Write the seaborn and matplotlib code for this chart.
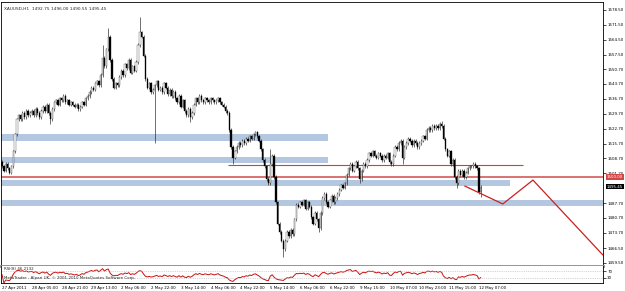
import numpy as np
import pandas as pd
import matplotlib
matplotlib.use("Agg")
import matplotlib.pyplot as plt
import matplotlib.transforms as mtransforms
import seaborn as sns

# ---------------- data ----------------
title_text = "XAUUSD,H1  1492.75 1496.00 1490.55 1495.45"

closes = [
    1505, 1503, 1506, 1504, 1502, 1505,
    1512, 1520, 1527,
    1529, 1527, 1530, 1528, 1531, 1529, 1530,
    1531, 1529, 1532, 1530, 1528, 1531, 1533, 1531,
    1534, 1530, 1527, 1532, 1535,
    1536, 1534, 1537, 1536, 1538, 1535, 1536, 1534,
    1535, 1534, 1533, 1534, 1532, 1533, 1535, 1534, 1537,
    1538, 1540, 1542, 1541, 1544, 1545, 1543, 1548,
    1556, 1552, 1560, 1566,
    1555, 1546, 1542, 1544, 1543,
    1547, 1550, 1548, 1553, 1551, 1555, 1549, 1552, 1550, 1554,
    1562, 1568, 1566, 1557,
    1546, 1542, 1544, 1540,
    1541, 1543, 1545, 1541,
    1542, 1540, 1544, 1542, 1539, 1541, 1538, 1540, 1537, 1535, 1538,
    1533, 1536, 1531, 1529, 1532, 1528, 1530,
    1534, 1537, 1535, 1538, 1536, 1535, 1537, 1536, 1535, 1537,
    1536, 1535, 1536, 1537, 1535, 1534, 1533, 1531, 1530,
    1522, 1514, 1509, 1512,
    1514, 1516, 1515, 1517, 1516, 1518, 1517, 1519, 1518, 1520, 1521, 1519, 1517,
    1513, 1508, 1505,
    1499, 1497, 1506, 1510, 1500,
    1488, 1478, 1474,
    1470, 1466, 1470,
    1474, 1472, 1475, 1473,
    1480, 1487, 1486, 1488,
    1487, 1489, 1485, 1488, 1486,
    1481, 1478, 1483, 1480, 1476, 1483,
    1490, 1492, 1488,
    1486, 1489, 1491, 1488, 1490,
    1492, 1494, 1496, 1495, 1497,
    1501, 1504, 1506, 1503, 1505, 1507,
    1504, 1499, 1503, 1506, 1505,
    1508, 1511, 1510, 1512, 1510,
    1509, 1511, 1510, 1508, 1510, 1509, 1511, 1507,
    1506, 1510, 1514, 1513, 1516,
    1517, 1509, 1514,
    1516, 1518, 1517, 1515, 1517, 1516, 1514, 1516,
    1517, 1519, 1518,
    1522, 1523, 1522, 1524, 1523, 1524, 1523, 1525,
    1524,
    1518, 1513,
    1510, 1512, 1506, 1508,
    1500, 1497, 1503,
    1501, 1503, 1500, 1502,
    1504, 1505,
    1505, 1506, 1505, 1504,
    1492.75,
    1495.45,
]
first_open = 1507.0
wick = 0.8  # default shadow length beyond the body
special_highs = {54: 1562, 57: 1570, 74: 1575, 144: 1513, 236: 1526.5, 257: 1496.0}
special_lows = {26: 1525, 82: 1516, 101: 1526, 124: 1506, 151: 1462.5, 170: 1474,
                192: 1497, 209: 1505, 215: 1506, 244: 1495, 257: 1490.55}

# support / resistance zones: (centre price, half height, last bar index or None = to edge)
zone_prices = [1518.6, 1507.8, 1497.1, 1487.7]
zone_half = [1.5, 1.4, 1.3, 1.2]
zone_end = [175, 175, 272.5, None]

level_main = 1500.0
level_thin = 1505.6
level_thin_span = (121.5, 279.6)

proj_x = [248.4, 268.8, 285.0, 322.6]
proj_y = [1495.7, 1487.25, 1498.5, 1463.2]

ytick_labels = ["1578.50", "1571.50", "1564.50", "1557.50", "1550.70", "1543.70",
                "1536.70", "1529.70", "1522.70", "1515.70", "1508.70", "1501.70",
                "1487.70", "1480.70", "1473.70", "1466.50", "1459.50"]
xtick_labels = ["27 Apr 2011", "28 Apr 05:00", "28 Apr 21:00", "29 Apr 13:00",
                "2 May 06:00", "2 May 22:00", "3 May 14:00", "4 May 06:00",
                "4 May 22:00", "5 May 14:00", "6 May 06:00", "6 May 22:00",
                "9 May 15:00", "10 May 07:00", "10 May 23:00", "11 May 15:00",
                "12 May 07:00"]
xtick_step = 16
rsi_period = 8

# ---------------- build frame ----------------
closes = np.array(closes, dtype=float)
n = len(closes)
idx = np.arange(n)
opens = np.concatenate([[first_open], closes[:-1]])
highs = np.maximum(opens, closes) + wick
lows = np.minimum(opens, closes) - wick
for k, v in special_highs.items():
    highs[k] = v
for k, v in special_lows.items():
    lows[k] = v
df = pd.DataFrame({"i": idx, "open": opens, "high": highs, "low": lows, "close": closes})

# RSI (Wilder smoothing)
delta = df["close"].diff()
gain = delta.clip(lower=0)
loss = -delta.clip(upper=0)
ag = gain.ewm(alpha=1 / rsi_period, adjust=False).mean()
al = loss.ewm(alpha=1 / rsi_period, adjust=False).mean()
df["rsi"] = 100 - 100 / (1 + ag / al.replace(0, np.nan))
df["rsi"] = df["rsi"].fillna(50)

# ---------------- plot ----------------
sns.set_style("white")
plt.rcParams["font.family"] = ["DejaVu Sans"]

W, H = 625, 291
fig = plt.figure(figsize=(W / 100, H / 100), dpi=100)
ax = fig.add_axes([1 / W, 25 / H, 602 / W, 264 / H])
ax2 = fig.add_axes([1 / W, 8 / H, 602 / W, 17 / H])

xlim = (-0.54, 322.6)
ax.set_xlim(*xlim)
ax.set_ylim(1458.08, 1582.26)

band_color = "#b3c7e1"
for c, h, e in zip(zone_prices, zone_half, zone_end):
    x1 = xlim[1] if e is None else e
    ax.fill_between([xlim[0], x1], c - h, c + h, color=band_color, lw=0, zorder=1)

ax.axhline(level_main, color="#d24a4a", lw=1.1, zorder=2)
ax.hlines(level_thin, *level_thin_span, color="#dc3a3a", lw=0.8, zorder=2)

# candles
up = df["close"] >= df["open"]
ax.vlines(df["i"], df["low"], df["high"], color="#202020", lw=0.45, zorder=3)
body_bottom = np.minimum(df["open"], df["close"])
body_h = np.abs(df["close"] - df["open"]).clip(lower=0.15)
ax.bar(df["i"][up], body_h[up], bottom=body_bottom[up], width=0.7,
       color="white", edgecolor="#303030", linewidth=0.25, zorder=4)
ax.bar(df["i"][~up], body_h[~up], bottom=body_bottom[~up], width=0.7,
       color="black", edgecolor="black", linewidth=0.25, zorder=4)

# projection zig-zag
proj = pd.DataFrame({"x": proj_x, "y": proj_y})
sns.lineplot(data=proj, x="x", y="y", ax=ax, color="#cc2020", lw=0.9, sort=False, zorder=5)

# axes styling
ax.set_xlabel("")
ax.set_ylabel("")
ax.tick_params(axis="x", bottom=False, labelbottom=False)
ax.yaxis.tick_right()
ax.set_yticks([float(s) for s in ytick_labels])
ax.set_yticklabels(ytick_labels)
ax.tick_params(axis="y", direction="out", length=2, width=0.5, pad=1.0,
               labelsize=2.9, colors="black")
for s in ["left", "top", "right"]:
    ax.spines[s].set_visible(True)
    ax.spines[s].set_color("black")
    ax.spines[s].set_linewidth(0.6)
ax.spines["bottom"].set_visible(True)
ax.spines["bottom"].set_color("#8a8a8a")
ax.spines["bottom"].set_linewidth(2.0)

# price boxes on the right scale
trans = mtransforms.blended_transform_factory(ax.transAxes, ax.transData)
ax.text(1.006, level_main, f"{level_main:.2f}", transform=trans, fontsize=2.9,
        color="white", va="center", ha="left", zorder=10, clip_on=False,
        bbox=dict(boxstyle="square,pad=0.2", fc="#d04848", ec="none"))
ax.text(1.006, closes[-1], f"{closes[-1]:.2f}", transform=trans, fontsize=2.9,
        color="white", va="center", ha="left", zorder=10, clip_on=False,
        bbox=dict(boxstyle="square,pad=0.2", fc="black", ec="none"))

fig.text(4 / W, 1 - 9 / H, title_text, fontsize=3.1, va="center", ha="left")

# RSI panel
ax2.set_xlim(*xlim)
ax2.set_ylim(0, 100)
sns.lineplot(data=df, x="i", y="rsi", ax=ax2, color="#cc1010", lw=0.7)
for lv in (70, 30):
    ax2.axhline(lv, color="#b0b0b0", lw=0.4, ls=(0, (2, 2)))
ax2.set_xlabel("")
ax2.set_ylabel("")
ax2.yaxis.tick_right()
ax2.set_yticks([70, 30])
ax2.set_yticklabels(["70", "30"])
ax2.tick_params(axis="y", direction="out", length=2, width=0.5, pad=1.0,
                labelsize=2.9, colors="black")
ax2.set_xticks(np.arange(len(xtick_labels)) * xtick_step)
ax2.set_xticklabels(xtick_labels, ha="left")
ax2.tick_params(axis="x", direction="out", length=1.5, width=0.5, pad=1,
                labelsize=2.9, colors="black")
for s in ["left", "bottom", "right"]:
    ax2.spines[s].set_visible(True)
    ax2.spines[s].set_color("black")
    ax2.spines[s].set_linewidth(0.6)
ax2.spines["top"].set_visible(False)
ax2.text(0.005, 0.82, f"RSI({rsi_period}) 46.2132", transform=ax2.transAxes,
         fontsize=2.9, va="center", ha="left")
ax2.text(0.005, 0.3, "MetaTrader - Alpari UK, \u00a9 2001-2010 MetaQuotes Software Corp.",
         transform=ax2.transAxes, fontsize=2.9, va="center", ha="left")

fig.savefig("out.png", dpi=100)
